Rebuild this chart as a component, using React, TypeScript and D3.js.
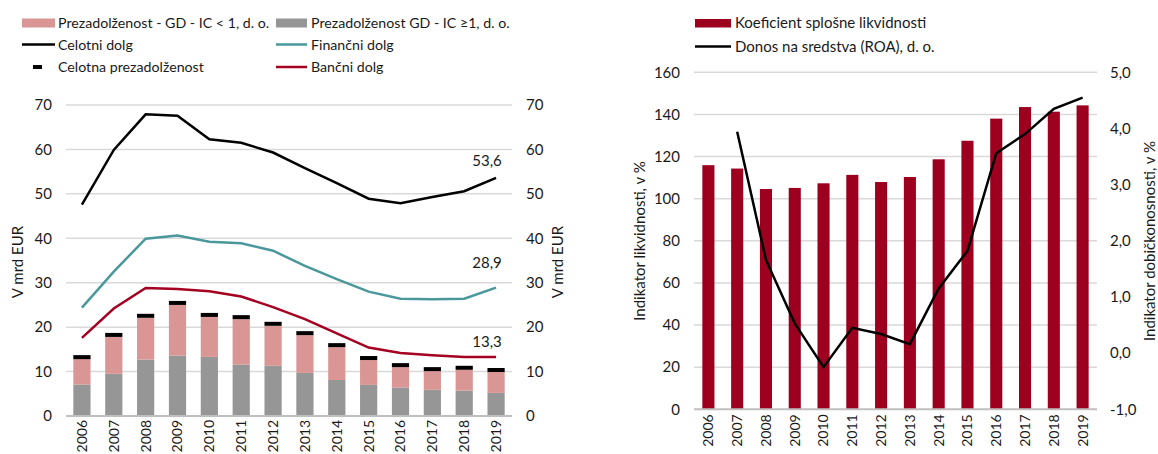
import React, { useEffect, useRef } from 'react';
import * as d3 from 'd3';

const years = ['2006', '2007', '2008', '2009', '2010', '2011', '2012', '2013', '2014', '2015', '2016', '2017', '2018', '2019'];

// levi graf, v mrd EUR
const overIcGe1 = [7.1, 9.5, 12.7, 13.6, 13.3, 11.6, 11.3, 9.7, 8.1, 7.0, 6.4, 5.9, 5.7, 5.2];
const overIcLt1 = [5.8, 8.3, 9.4, 11.4, 9.0, 10.2, 9.0, 8.5, 7.4, 5.6, 4.6, 4.2, 4.7, 4.7];
const overTotal = [13.7, 18.7, 23.0, 25.9, 23.2, 22.7, 21.2, 19.1, 16.4, 13.5, 11.9, 11.0, 11.3, 10.8];
const totalDebt = [47.6, 59.9, 67.9, 67.6, 62.3, 61.5, 59.3, 55.8, 52.4, 48.9, 47.9, 49.3, 50.6, 53.6];
const financialDebt = [24.4, 32.5, 39.9, 40.6, 39.2, 38.9, 37.2, 33.8, 30.8, 28.0, 26.4, 26.3, 26.4, 28.9];
const bankDebt = [17.6, 24.2, 28.8, 28.6, 28.1, 26.9, 24.5, 21.8, 18.6, 15.4, 14.2, 13.7, 13.3, 13.3];
const leftTicks = [0, 10, 20, 30, 40, 50, 60, 70];

// desni graf
const liquidity = [115.9, 114.3, 104.6, 105.1, 107.3, 111.3, 107.9, 110.3, 118.7, 127.5, 138.0, 143.5, 141.3, 144.3];
const roa = [null, 3.94, 1.66, 0.53, -0.25, 0.45, 0.34, 0.16, 1.15, 1.82, 3.56, 3.90, 4.35, 4.55];
const liqTicks = [0, 20, 40, 60, 80, 100, 120, 140, 160];
const roaTicks = [-1, 0, 1, 2, 3, 4, 5];

const FONT = 'Lato, "Open Sans", sans-serif';
const FS = 15;
const LEG_FS = 14.2;
const PINK = '#d99694';
const GRAY = '#969696';
const TEAL = '#4a989c';
const RED = '#a50021';
const BAR_RED = '#9c001e';
const GRID = '#d9d9d9';
const TXT = '#1a1a1a';

const fmt = (v: number) => v.toFixed(1).replace('.', ',');

const App = () => {
  const ref = useRef<SVGSVGElement | null>(null);

  useEffect(() => {
    const svg = d3.select(ref.current);
    svg.selectAll('*').remove();
    svg.style('font-family', FONT);

    // ---------- levi graf ----------
    const L = { left: 66, right: 512, top: 105, bottom: 416 };
    const x = d3.scaleBand().domain(years).range([L.left, L.right]).paddingInner(0.46).paddingOuter(0.23);
    const y = d3.scaleLinear().domain([0, 70]).range([L.bottom, L.top]);

    const g1 = svg.append('g');
    g1.selectAll('line.grid').data(leftTicks.filter(t => t > 0)).join('line')
      .attr('x1', L.left).attr('x2', L.right)
      .attr('y1', d => y(d)).attr('y2', d => y(d))
      .attr('stroke', GRID).attr('stroke-width', 1.5);

    g1.selectAll('text.yl').data(leftTicks).join('text')
      .attr('x', 52).attr('y', d => y(d)).attr('dy', '0.35em')
      .attr('text-anchor', 'end').attr('font-size', FS).attr('fill', TXT)
      .text(d => d);
    g1.selectAll('text.yr').data(leftTicks).join('text')
      .attr('x', 526).attr('y', d => y(d)).attr('dy', '0.35em')
      .attr('font-size', FS).attr('fill', TXT)
      .text(d => d);

    g1.selectAll('rect.gray').data(years).join('rect')
      .attr('x', d => x(d)!).attr('width', x.bandwidth())
      .attr('y', (d, i) => y(overIcGe1[i]))
      .attr('height', (d, i) => y(0) - y(overIcGe1[i]))
      .attr('fill', GRAY);
    g1.selectAll('rect.pink').data(years).join('rect')
      .attr('x', d => x(d)!).attr('width', x.bandwidth())
      .attr('y', (d, i) => y(overIcGe1[i] + overIcLt1[i]))
      .attr('height', (d, i) => y(overIcGe1[i]) - y(overIcGe1[i] + overIcLt1[i]))
      .attr('fill', PINK);
    g1.selectAll('rect.total').data(years).join('rect')
      .attr('x', d => x(d)!).attr('width', x.bandwidth())
      .attr('y', (d, i) => y(overTotal[i]))
      .attr('height', 4)
      .attr('fill', '#000');

    const cx = (d: string) => x(d)! + x.bandwidth() / 2;
    const line = d3.line<number>().x((d, i) => cx(years[i])).y(d => y(d));
    [[totalDebt, '#000'], [financialDebt, TEAL], [bankDebt, RED]].forEach(([vals, col]) => {
      g1.append('path').attr('d', line(vals as number[]))
        .attr('fill', 'none').attr('stroke', col as string).attr('stroke-width', 2.5);
    });

    const last = years[years.length - 1];
    [[totalDebt, 17], [financialDebt, 25], [bankDebt, 15]].forEach(([vals, off]) => {
      const v = (vals as number[])[13];
      g1.append('text').attr('x', cx(last) - 9).attr('y', y(v) - (off as number))
        .attr('dy', '0.35em').attr('text-anchor', 'middle')
        .attr('font-size', FS).attr('fill', TXT).text(fmt(v));
    });

    g1.append('line').attr('x1', L.left).attr('x2', L.right)
      .attr('y1', L.bottom).attr('y2', L.bottom).attr('stroke', '#bfbfbf').attr('stroke-width', 2);

    g1.selectAll('text.xl').data(years).join('text')
      .attr('transform', d => `translate(${cx(d)},${L.bottom + 4}) rotate(-90)`)
      .attr('dy', '0.35em').attr('text-anchor', 'end')
      .attr('font-size', 14).attr('fill', TXT).text(d => d);

    g1.append('text').attr('transform', `translate(18,262) rotate(-90)`)
      .attr('dy', '0.35em').attr('text-anchor', 'middle')
      .attr('font-size', FS).attr('fill', TXT).text('V mrd EUR');
    g1.append('text').attr('transform', `translate(558,262) rotate(-90)`)
      .attr('dy', '0.35em').attr('text-anchor', 'middle')
      .attr('font-size', FS).attr('fill', TXT).text('V mrd EUR');

    // legenda levo
    const lg = svg.append('g').attr('font-size', LEG_FS).attr('fill', TXT);
    lg.append('rect').attr('x', 22).attr('y', 18.5).attr('width', 33).attr('height', 9).attr('fill', PINK);
    lg.append('text').attr('x', 58).attr('y', 23).attr('dy', '0.35em').text('Prezadolženost - GD - IC < 1, d. o.');
    lg.append('rect').attr('x', 276).attr('y', 18.5).attr('width', 31).attr('height', 9).attr('fill', GRAY);
    lg.append('text').attr('x', 311).attr('y', 23).attr('dy', '0.35em').text('Prezadolženost GD - IC ≥1, d. o.');
    lg.append('line').attr('x1', 22).attr('x2', 55).attr('y1', 44.5).attr('y2', 44.5).attr('stroke', '#000').attr('stroke-width', 2.5);
    lg.append('text').attr('x', 58).attr('y', 45).attr('dy', '0.35em').text('Celotni dolg');
    lg.append('line').attr('x1', 276).attr('x2', 307).attr('y1', 44.5).attr('y2', 44.5).attr('stroke', TEAL).attr('stroke-width', 2.5);
    lg.append('text').attr('x', 311).attr('y', 45).attr('dy', '0.35em').text('Finančni dolg');
    lg.append('rect').attr('x', 33).attr('y', 65).attr('width', 9).attr('height', 4).attr('fill', '#000');
    lg.append('text').attr('x', 58).attr('y', 67).attr('dy', '0.35em').text('Celotna prezadolženost');
    lg.append('line').attr('x1', 276).attr('x2', 307).attr('y1', 67).attr('y2', 67).attr('stroke', RED).attr('stroke-width', 2.5);
    lg.append('text').attr('x', 311).attr('y', 67).attr('dy', '0.35em').text('Bančni dolg');

    // ---------- desni graf ----------
    const R = { left: 694, right: 1097, top: 72.3, bottom: 409.3 };
    const x2 = d3.scaleBand().domain(years).range([R.left, R.right]).paddingInner(0.58).paddingOuter(0.29);
    const yL = d3.scaleLinear().domain([0, 160]).range([R.bottom, R.top]);
    const yR = d3.scaleLinear().domain([-1, 5]).range([R.bottom, R.top]);

    const g2 = svg.append('g');
    g2.selectAll('line.grid').data(liqTicks.filter(t => t > 0)).join('line')
      .attr('x1', R.left).attr('x2', R.right)
      .attr('y1', d => yL(d)).attr('y2', d => yL(d))
      .attr('stroke', GRID).attr('stroke-width', 1.5);

    g2.selectAll('text.yl').data(liqTicks).join('text')
      .attr('x', 680).attr('y', d => yL(d)).attr('dy', '0.35em')
      .attr('text-anchor', 'end').attr('font-size', FS).attr('fill', TXT)
      .text(d => d);
    g2.selectAll('text.yr').data(roaTicks).join('text')
      .attr('x', 1110).attr('y', d => yR(d)).attr('dy', '0.35em')
      .attr('font-size', FS).attr('fill', TXT)
      .text(d => fmt(d));

    g2.selectAll('rect.liq').data(years).join('rect')
      .attr('x', d => x2(d)!).attr('width', x2.bandwidth())
      .attr('y', (d, i) => yL(liquidity[i]))
      .attr('height', (d, i) => yL(0) - yL(liquidity[i]))
      .attr('fill', BAR_RED);

    const cx2 = (d: string) => x2(d)! + x2.bandwidth() / 2;
    const roaLine = d3.line<number | null>()
      .defined(d => d !== null)
      .x((d, i) => cx2(years[i])).y(d => yR(d as number));
    g2.append('path').attr('d', roaLine(roa))
      .attr('fill', 'none').attr('stroke', '#000').attr('stroke-width', 2.5);

    g2.append('line').attr('x1', R.left).attr('x2', R.right)
      .attr('y1', R.bottom).attr('y2', R.bottom).attr('stroke', '#bfbfbf').attr('stroke-width', 2);

    g2.selectAll('text.xl').data(years).join('text')
      .attr('transform', d => `translate(${cx2(d)},${R.bottom + 5}) rotate(-90)`)
      .attr('dy', '0.35em').attr('text-anchor', 'end')
      .attr('font-size', 14).attr('fill', TXT).text(d => d);

    g2.append('text').attr('transform', `translate(640,241) rotate(-90)`)
      .attr('dy', '0.35em').attr('text-anchor', 'middle')
      .attr('font-size', FS).attr('fill', TXT).text('Indikator likvidnosti, v %');
    g2.append('text').attr('transform', `translate(1150,241) rotate(-90)`)
      .attr('dy', '0.35em').attr('text-anchor', 'middle')
      .attr('font-size', FS).attr('fill', TXT).text('Indikator dobičkonosnosti, v %');

    const rg = svg.append('g').attr('font-size', FS).attr('fill', TXT);
    rg.append('rect').attr('x', 695).attr('y', 19).attr('width', 36).attr('height', 8.5).attr('fill', BAR_RED);
    rg.append('text').attr('x', 735).attr('y', 23).attr('dy', '0.35em').text('Koeficient splošne likvidnosti');
    rg.append('line').attr('x1', 695).attr('x2', 731).attr('y1', 46.5).attr('y2', 46.5).attr('stroke', '#000').attr('stroke-width', 2.5);
    rg.append('text').attr('x', 735).attr('y', 47).attr('dy', '0.35em').text('Donos na sredstva (ROA), d. o.');
  }, []);

  return (
    <svg ref={ref} width={1158} height={454}
      style={{ position: 'absolute', left: 0, top: 0, background: '#fff' }} />
  );
};

export default App;
